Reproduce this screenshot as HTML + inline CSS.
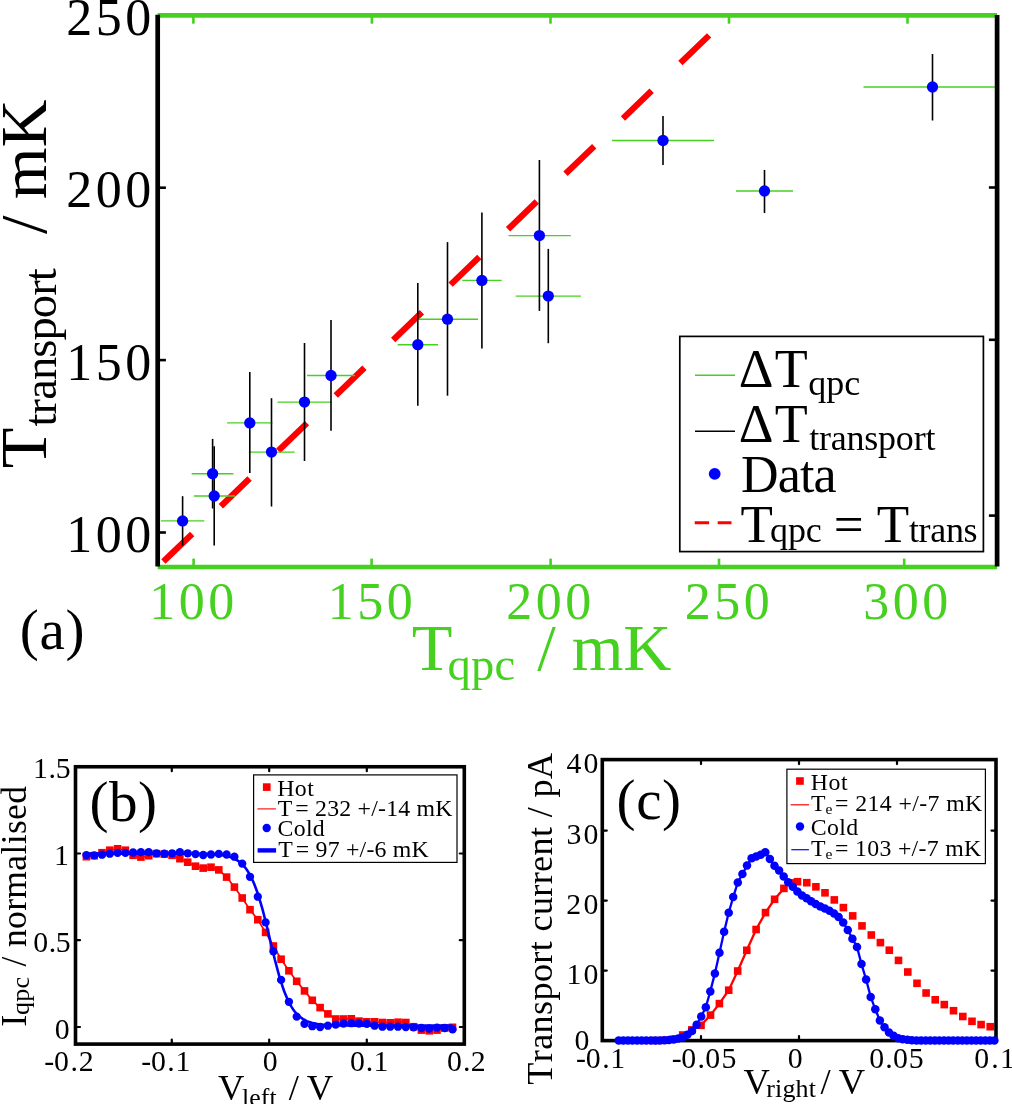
<!DOCTYPE html>
<html lang="en">
<head>
<meta charset="utf-8">
<title>Figure: T_transport vs T_qpc</title>
<style>
html,body{margin:0;padding:0;background:#fff;}
body{width:1012px;height:1104px;overflow:hidden;font-family:"Liberation Serif",serif;}
svg{display:block;will-change:transform;}
svg text{font-family:"Liberation Serif",serif;}
</style>
</head>
<body>
<svg width="1012" height="1104" viewBox="0 0 1012 1104">
<rect x="0" y="0" width="1012" height="1104" fill="#fff"/>
<g id="panel-a">
<line x1="163.4" y1="561.6" x2="710" y2="34.5" stroke="#ff0000" stroke-width="6.2" stroke-dasharray="39.9 39.9"/>
<line x1="160.9" y1="520.9" x2="204.3" y2="520.9" stroke="#46d020" stroke-width="1.4"/>
<line x1="191.7" y1="473.7" x2="233.4" y2="473.7" stroke="#46d020" stroke-width="1.4"/>
<line x1="193.9" y1="496.0" x2="235.0" y2="496.0" stroke="#46d020" stroke-width="1.4"/>
<line x1="227.1" y1="422.9" x2="272.5" y2="422.9" stroke="#46d020" stroke-width="1.4"/>
<line x1="248.8" y1="452.1" x2="294.7" y2="452.1" stroke="#46d020" stroke-width="1.4"/>
<line x1="277.5" y1="402.1" x2="331.8" y2="402.1" stroke="#46d020" stroke-width="1.4"/>
<line x1="307.0" y1="375.5" x2="355.0" y2="375.5" stroke="#46d020" stroke-width="1.4"/>
<line x1="397.7" y1="344.7" x2="438.0" y2="344.7" stroke="#46d020" stroke-width="1.4"/>
<line x1="417.8" y1="319.2" x2="478.0" y2="319.2" stroke="#46d020" stroke-width="1.4"/>
<line x1="462.3" y1="280.4" x2="501.7" y2="280.4" stroke="#46d020" stroke-width="1.4"/>
<line x1="508.5" y1="235.6" x2="570.8" y2="235.6" stroke="#46d020" stroke-width="1.4"/>
<line x1="515.7" y1="296.1" x2="580.9" y2="296.1" stroke="#46d020" stroke-width="1.4"/>
<line x1="612.0" y1="140.5" x2="714.0" y2="140.5" stroke="#46d020" stroke-width="1.4"/>
<line x1="736.0" y1="191.0" x2="793.0" y2="191.0" stroke="#46d020" stroke-width="1.4"/>
<line x1="863.5" y1="87.0" x2="997.0" y2="87.0" stroke="#46d020" stroke-width="1.4"/>
<line x1="182.6" y1="496.2" x2="182.6" y2="545.6" stroke="#000" stroke-width="1.6"/>
<line x1="212.6" y1="438.9" x2="212.6" y2="508.5" stroke="#000" stroke-width="1.6"/>
<line x1="214.2" y1="446.2" x2="214.2" y2="545.6" stroke="#000" stroke-width="1.6"/>
<line x1="249.8" y1="372.0" x2="249.8" y2="472.9" stroke="#000" stroke-width="1.6"/>
<line x1="271.5" y1="398.2" x2="271.5" y2="506.5" stroke="#000" stroke-width="1.6"/>
<line x1="304.5" y1="343.0" x2="304.5" y2="461.0" stroke="#000" stroke-width="1.6"/>
<line x1="331.0" y1="320.1" x2="331.0" y2="430.7" stroke="#000" stroke-width="1.6"/>
<line x1="417.8" y1="283.0" x2="417.8" y2="405.8" stroke="#000" stroke-width="1.6"/>
<line x1="447.5" y1="242.1" x2="447.5" y2="395.7" stroke="#000" stroke-width="1.6"/>
<line x1="481.9" y1="212.5" x2="481.9" y2="348.5" stroke="#000" stroke-width="1.6"/>
<line x1="539.4" y1="160.0" x2="539.4" y2="310.9" stroke="#000" stroke-width="1.6"/>
<line x1="548.3" y1="248.9" x2="548.3" y2="343.2" stroke="#000" stroke-width="1.6"/>
<line x1="663.0" y1="116.0" x2="663.0" y2="165.0" stroke="#000" stroke-width="1.6"/>
<line x1="764.5" y1="170.0" x2="764.5" y2="213.0" stroke="#000" stroke-width="1.6"/>
<line x1="932.5" y1="54.0" x2="932.5" y2="120.5" stroke="#000" stroke-width="1.6"/>
<circle cx="182.6" cy="520.9" r="5.65" fill="#0000ff"/>
<circle cx="212.6" cy="473.7" r="5.65" fill="#0000ff"/>
<circle cx="214.2" cy="496.0" r="5.65" fill="#0000ff"/>
<circle cx="249.8" cy="422.9" r="5.65" fill="#0000ff"/>
<circle cx="271.5" cy="452.1" r="5.65" fill="#0000ff"/>
<circle cx="304.5" cy="402.1" r="5.65" fill="#0000ff"/>
<circle cx="331.0" cy="375.5" r="5.65" fill="#0000ff"/>
<circle cx="417.8" cy="344.7" r="5.65" fill="#0000ff"/>
<circle cx="447.5" cy="319.2" r="5.65" fill="#0000ff"/>
<circle cx="481.9" cy="280.4" r="5.65" fill="#0000ff"/>
<circle cx="539.4" cy="235.6" r="5.65" fill="#0000ff"/>
<circle cx="548.3" cy="296.1" r="5.65" fill="#0000ff"/>
<circle cx="663.0" cy="140.5" r="5.65" fill="#0000ff"/>
<circle cx="764.5" cy="191.0" r="5.65" fill="#0000ff"/>
<circle cx="932.5" cy="87.0" r="5.65" fill="#0000ff"/>
<line x1="157.7" y1="15.3" x2="997.1" y2="15.3" stroke="#46d020" stroke-width="4.7"/>
<line x1="157.7" y1="567.0" x2="997.1" y2="567.0" stroke="#46d020" stroke-width="4.7"/>
<line x1="157.7" y1="14.8" x2="157.7" y2="566.5" stroke="#000" stroke-width="4.7"/>
<line x1="997.1" y1="15.0" x2="997.1" y2="566.5" stroke="#000" stroke-width="4.7"/>
<line x1="193.4" y1="15.3" x2="193.4" y2="23.700000000000003" stroke="#46d020" stroke-width="2.6"/>
<line x1="193.6" y1="567.0" x2="193.6" y2="558.6" stroke="#46d020" stroke-width="2.6"/>
<text xml:space="preserve" x="149.22 178.74 208.26" y="619.20" font-size="52" fill="#46d020">100</text>
<line x1="371.9" y1="15.3" x2="371.9" y2="23.700000000000003" stroke="#46d020" stroke-width="2.6"/>
<line x1="371.6" y1="567.0" x2="371.6" y2="558.6" stroke="#46d020" stroke-width="2.6"/>
<text xml:space="preserve" x="327.75 357.27 386.78" y="619.20" font-size="52" fill="#46d020">150</text>
<line x1="550.5" y1="15.3" x2="550.5" y2="23.700000000000003" stroke="#46d020" stroke-width="2.6"/>
<line x1="550.6" y1="567.0" x2="550.6" y2="558.6" stroke="#46d020" stroke-width="2.6"/>
<text xml:space="preserve" x="506.27 535.79 565.31" y="619.20" font-size="52" fill="#46d020">200</text>
<line x1="729.0" y1="15.3" x2="729.0" y2="23.700000000000003" stroke="#46d020" stroke-width="2.6"/>
<line x1="719.0" y1="567.0" x2="719.0" y2="558.6" stroke="#46d020" stroke-width="2.6"/>
<text xml:space="preserve" x="684.80 714.32 743.83" y="619.20" font-size="52" fill="#46d020">250</text>
<line x1="907.5" y1="15.3" x2="907.5" y2="23.700000000000003" stroke="#46d020" stroke-width="2.6"/>
<line x1="904.2" y1="567.0" x2="904.2" y2="558.6" stroke="#46d020" stroke-width="2.6"/>
<text xml:space="preserve" x="863.32 892.84 922.36" y="619.20" font-size="52" fill="#46d020">300</text>
<line x1="157.7" y1="532.5" x2="165.89999999999998" y2="532.5" stroke="#000" stroke-width="2.6"/>
<line x1="997.1" y1="515.6" x2="988.9" y2="515.6" stroke="#000" stroke-width="2.6"/>
<text xml:space="preserve" x="66.14 95.66 125.18" y="552.00" font-size="52" fill="#000">100</text>
<line x1="157.7" y1="360.1" x2="165.89999999999998" y2="360.1" stroke="#000" stroke-width="2.6"/>
<line x1="997.1" y1="339.8" x2="988.9" y2="339.8" stroke="#000" stroke-width="2.6"/>
<text xml:space="preserve" x="66.14 95.66 125.18" y="379.60" font-size="52" fill="#000">150</text>
<line x1="157.7" y1="187.7" x2="165.89999999999998" y2="187.7" stroke="#000" stroke-width="2.6"/>
<line x1="997.1" y1="187.5" x2="988.9" y2="187.5" stroke="#000" stroke-width="2.6"/>
<text xml:space="preserve" x="66.14 95.66 125.18" y="207.20" font-size="52" fill="#000">200</text>
<text xml:space="preserve" x="66.14 95.66 125.18" y="34.80" font-size="52" fill="#000">250</text>
<text xml:space="preserve" x="411.80" y="670.30" font-size="66.5" fill="#46d020">T</text>
<text xml:space="preserve" x="447.52 470.96 494.39" y="680.30" font-size="46.5" fill="#46d020">qpc</text>
<text xml:space="preserve" x="537.30 555.45 571.75 623.16" y="670.30" font-size="66.5" fill="#46d020">/ mK</text>
<text xml:space="preserve" transform="translate(46.00,0) rotate(-90)" x="-468.20" y="0" font-size="66.5" fill="#000">T</text>
<text xml:space="preserve" transform="translate(56.20,0) rotate(-90)" x="-426.45 -414.43 -399.84 -380.10 -357.74 -340.54 -318.19 -295.84 -281.25" y="0" font-size="46.5" fill="#000">transport</text>
<text xml:space="preserve" transform="translate(46.00,0) rotate(-90)" x="-234.00 -215.65 -199.15 -147.54" y="0" font-size="66.5" fill="#000">/ mK</text>
<text xml:space="preserve" x="19.69 39.41 65.47" y="649.20" font-size="57.2" fill="#000">(a)</text>
<rect x="679.8" y="336.4" width="303.6" height="215.2" fill="#fff" stroke="#000" stroke-width="1.7"/>
<line x1="695" y1="375.2" x2="735" y2="375.2" stroke="#46d020" stroke-width="1.4"/>
<text xml:space="preserve" x="738.64 774.81" y="386.70" font-size="54" fill="#000">ΔT</text>
<text xml:space="preserve" x="808.30 826.31 844.33" y="394.50" font-size="36" fill="#000">qpc</text>
<line x1="695" y1="431.2" x2="735" y2="431.2" stroke="#000" stroke-width="1.6"/>
<text xml:space="preserve" x="738.64 774.81" y="442.20" font-size="54" fill="#000">ΔT</text>
<text xml:space="preserve" x="809.25 819.02 830.79 846.54 864.31 878.10 895.87 913.65 925.41" y="450.00" font-size="36" fill="#000">transport</text>
<circle cx="714.7" cy="473.8" r="5.9" fill="#0000ff"/>
<text xml:space="preserve" x="740.90 777.64 799.90 813.53" y="492.40" font-size="52" fill="#000">Data</text>
<line x1="694.7" y1="522.7" x2="731.5" y2="522.7" stroke="#ff0000" stroke-width="3" stroke-dasharray="14.4 8.6"/>
<text xml:space="preserve" x="740.54" y="541.80" font-size="53" fill="#000">T</text>
<text xml:space="preserve" x="770.00 787.91 805.83" y="541.80" font-size="36" fill="#000">qpc</text>
<text xml:space="preserve" x="833.76" y="541.80" font-size="53" fill="#000">=</text>
<text xml:space="preserve" x="876.84" y="541.80" font-size="53" fill="#000">T</text>
<text xml:space="preserve" x="908.95 918.62 930.28 945.92 963.59" y="541.80" font-size="36" fill="#000">trans</text>
</g>
<g id="panel-b">
<polyline points="86.4,856.7 94.2,855.7 102.0,852.7 109.8,850.2 117.6,848.8 125.4,850.2 133.1,855.3 140.9,857.1 148.7,855.7 156.5,853.7 164.3,854.1 172.1,855.3 179.9,858.7 187.7,862.2 195.5,866.2 203.2,868.1 211.0,867.2 218.8,869.9 226.6,877.1 234.4,887.1 242.2,898.0 250.0,909.7 257.8,919.7 265.6,932.4 273.4,946.0 281.1,959.2 288.9,970.8 296.7,981.3 304.5,990.9 312.3,1000.3 320.1,1007.6 327.9,1013.9 335.7,1019.0 343.5,1019.0 351.3,1018.8 359.0,1021.1 366.8,1021.8 374.6,1021.8 382.4,1022.5 390.2,1022.8 398.0,1022.2 405.8,1022.5 413.6,1026.7 421.4,1030.1 429.2,1030.8 437.0,1030.1 444.7,1028.0 452.5,1027.3" fill="none" stroke="#ff0000" stroke-width="1.7"/>
<rect x="82.6" y="852.9" width="7.6" height="7.6" fill="#ff0000"/>
<rect x="90.4" y="851.9" width="7.6" height="7.6" fill="#ff0000"/>
<rect x="98.2" y="848.9" width="7.6" height="7.6" fill="#ff0000"/>
<rect x="106.0" y="846.4" width="7.6" height="7.6" fill="#ff0000"/>
<rect x="113.8" y="845.0" width="7.6" height="7.6" fill="#ff0000"/>
<rect x="121.6" y="846.4" width="7.6" height="7.6" fill="#ff0000"/>
<rect x="129.3" y="851.5" width="7.6" height="7.6" fill="#ff0000"/>
<rect x="137.1" y="853.3" width="7.6" height="7.6" fill="#ff0000"/>
<rect x="144.9" y="851.9" width="7.6" height="7.6" fill="#ff0000"/>
<rect x="152.7" y="849.9" width="7.6" height="7.6" fill="#ff0000"/>
<rect x="160.5" y="850.3" width="7.6" height="7.6" fill="#ff0000"/>
<rect x="168.3" y="851.5" width="7.6" height="7.6" fill="#ff0000"/>
<rect x="176.1" y="854.9" width="7.6" height="7.6" fill="#ff0000"/>
<rect x="183.9" y="858.4" width="7.6" height="7.6" fill="#ff0000"/>
<rect x="191.7" y="862.4" width="7.6" height="7.6" fill="#ff0000"/>
<rect x="199.4" y="864.3" width="7.6" height="7.6" fill="#ff0000"/>
<rect x="207.2" y="863.4" width="7.6" height="7.6" fill="#ff0000"/>
<rect x="215.0" y="866.1" width="7.6" height="7.6" fill="#ff0000"/>
<rect x="222.8" y="873.3" width="7.6" height="7.6" fill="#ff0000"/>
<rect x="230.6" y="883.3" width="7.6" height="7.6" fill="#ff0000"/>
<rect x="238.4" y="894.2" width="7.6" height="7.6" fill="#ff0000"/>
<rect x="246.2" y="905.9" width="7.6" height="7.6" fill="#ff0000"/>
<rect x="254.0" y="915.9" width="7.6" height="7.6" fill="#ff0000"/>
<rect x="261.8" y="928.6" width="7.6" height="7.6" fill="#ff0000"/>
<rect x="269.6" y="942.2" width="7.6" height="7.6" fill="#ff0000"/>
<rect x="277.3" y="955.4" width="7.6" height="7.6" fill="#ff0000"/>
<rect x="285.1" y="967.0" width="7.6" height="7.6" fill="#ff0000"/>
<rect x="292.9" y="977.5" width="7.6" height="7.6" fill="#ff0000"/>
<rect x="300.7" y="987.1" width="7.6" height="7.6" fill="#ff0000"/>
<rect x="308.5" y="996.5" width="7.6" height="7.6" fill="#ff0000"/>
<rect x="316.3" y="1003.8" width="7.6" height="7.6" fill="#ff0000"/>
<rect x="324.1" y="1010.1" width="7.6" height="7.6" fill="#ff0000"/>
<rect x="331.9" y="1015.2" width="7.6" height="7.6" fill="#ff0000"/>
<rect x="339.7" y="1015.2" width="7.6" height="7.6" fill="#ff0000"/>
<rect x="347.5" y="1015.0" width="7.6" height="7.6" fill="#ff0000"/>
<rect x="355.2" y="1017.3" width="7.6" height="7.6" fill="#ff0000"/>
<rect x="363.0" y="1018.0" width="7.6" height="7.6" fill="#ff0000"/>
<rect x="370.8" y="1018.0" width="7.6" height="7.6" fill="#ff0000"/>
<rect x="378.6" y="1018.7" width="7.6" height="7.6" fill="#ff0000"/>
<rect x="386.4" y="1019.0" width="7.6" height="7.6" fill="#ff0000"/>
<rect x="394.2" y="1018.4" width="7.6" height="7.6" fill="#ff0000"/>
<rect x="402.0" y="1018.7" width="7.6" height="7.6" fill="#ff0000"/>
<rect x="409.8" y="1022.9" width="7.6" height="7.6" fill="#ff0000"/>
<rect x="417.6" y="1026.3" width="7.6" height="7.6" fill="#ff0000"/>
<rect x="425.4" y="1027.0" width="7.6" height="7.6" fill="#ff0000"/>
<rect x="433.2" y="1026.3" width="7.6" height="7.6" fill="#ff0000"/>
<rect x="440.9" y="1024.2" width="7.6" height="7.6" fill="#ff0000"/>
<rect x="448.7" y="1023.5" width="7.6" height="7.6" fill="#ff0000"/>
<polyline points="86.4,853.6 87.9,853.6 89.5,853.6 91.0,853.6 92.5,853.6 94.1,853.6 95.6,853.6 97.1,853.6 98.7,853.6 100.2,853.6 101.7,853.6 103.3,853.6 104.8,853.6 106.3,853.6 107.8,853.6 109.4,853.6 110.9,853.6 112.4,853.6 114.0,853.6 115.5,853.6 117.0,853.6 118.6,853.6 120.1,853.6 121.6,853.6 123.2,853.6 124.7,853.6 126.2,853.6 127.8,853.6 129.3,853.6 130.8,853.6 132.4,853.6 133.9,853.6 135.4,853.6 137.0,853.6 138.5,853.6 140.0,853.6 141.5,853.6 143.1,853.6 144.6,853.6 146.1,853.6 147.7,853.6 149.2,853.6 150.7,853.6 152.3,853.6 153.8,853.6 155.3,853.6 156.9,853.6 158.4,853.6 159.9,853.6 161.5,853.6 163.0,853.6 164.5,853.6 166.1,853.6 167.6,853.6 169.1,853.6 170.7,853.6 172.2,853.6 173.7,853.6 175.3,853.6 176.8,853.6 178.3,853.6 179.8,853.6 181.4,853.6 182.9,853.6 184.4,853.6 186.0,853.6 187.5,853.7 189.0,853.7 190.6,853.7 192.1,853.7 193.6,853.7 195.2,853.7 196.7,853.7 198.2,853.8 199.8,853.8 201.3,853.8 202.8,853.8 204.4,853.9 205.9,853.9 207.4,854.0 209.0,854.0 210.5,854.1 212.0,854.2 213.5,854.3 215.1,854.4 216.6,854.5 218.1,854.7 219.7,854.9 221.2,855.1 222.7,855.3 224.3,855.6 225.8,855.9 227.3,856.2 228.9,856.7 230.4,857.1 231.9,857.7 233.5,858.3 235.0,859.1 236.5,859.9 238.1,860.9 239.6,862.0 241.1,863.3 242.7,864.8 244.2,866.4 245.7,868.3 247.3,870.5 248.8,872.9 250.3,875.6 251.8,878.6 253.4,882.0 254.9,885.7 256.4,889.8 258.0,894.2 259.5,899.1 261.0,904.2 262.6,909.7 264.1,915.5 265.6,921.6 267.2,927.8 268.7,934.1 270.2,940.6 271.8,947.0 273.3,953.3 274.8,959.5 276.4,965.5 277.9,971.2 279.4,976.6 281.0,981.6 282.5,986.3 284.0,990.7 285.6,994.7 287.1,998.3 288.6,1001.5 290.1,1004.5 291.7,1007.1 293.2,1009.4 294.7,1011.5 296.3,1013.3 297.8,1014.9 299.3,1016.3 300.9,1017.5 302.4,1018.6 303.9,1019.5 305.5,1020.4 307.0,1021.1 308.5,1021.7 310.1,1022.2 311.6,1022.7 313.1,1023.1 314.7,1023.4 316.2,1023.7 317.7,1024.0 319.3,1024.2 320.8,1024.4 322.3,1024.6 323.8,1024.7 325.4,1024.8 326.9,1024.9 328.4,1025.0 330.0,1025.1 331.5,1025.2 333.0,1025.2 334.6,1025.3 336.1,1025.3 337.6,1025.4 339.2,1025.4 340.7,1025.4 342.2,1025.5 343.8,1025.5 345.3,1025.5 346.8,1025.5 348.4,1025.5 349.9,1025.5 351.4,1025.5 353.0,1025.5 354.5,1025.6 356.0,1025.6 357.6,1025.6 359.1,1025.6 360.6,1025.6 362.1,1025.6 363.7,1025.6 365.2,1025.6 366.7,1025.6 368.3,1025.6 369.8,1025.6 371.3,1025.6 372.9,1025.6 374.4,1025.6 375.9,1025.6 377.5,1025.6 379.0,1025.6 380.5,1025.6 382.1,1025.6 383.6,1025.6 385.1,1025.6 386.7,1025.6 388.2,1025.6 389.7,1025.6 391.3,1025.6 392.8,1025.6 394.3,1025.6 395.8,1025.6 397.4,1025.6 398.9,1025.6 400.4,1025.6 402.0,1025.6 403.5,1025.6 405.0,1025.6 406.6,1025.6 408.1,1025.6 409.6,1025.6 411.2,1025.6 412.7,1025.6 414.2,1025.6 415.8,1025.6 417.3,1025.6 418.8,1025.6 420.4,1025.6 421.9,1025.6 423.4,1025.6 425.0,1025.6 426.5,1025.6 428.0,1025.6 429.6,1025.6 431.1,1025.6 432.6,1025.6 434.1,1025.6 435.7,1025.6 437.2,1025.6 438.7,1025.6 440.3,1025.6 441.8,1025.6 443.3,1025.6 444.9,1025.6 446.4,1025.6 447.9,1025.6 449.5,1025.6 451.0,1025.6 452.5,1025.6" fill="none" stroke="#0000ff" stroke-width="2.6"/>
<circle cx="86.4" cy="855.1" r="4.15" fill="#0000ff"/>
<circle cx="94.2" cy="855.3" r="4.15" fill="#0000ff"/>
<circle cx="102.0" cy="854.7" r="4.15" fill="#0000ff"/>
<circle cx="109.8" cy="853.7" r="4.15" fill="#0000ff"/>
<circle cx="117.6" cy="852.9" r="4.15" fill="#0000ff"/>
<circle cx="125.4" cy="852.9" r="4.15" fill="#0000ff"/>
<circle cx="133.1" cy="852.5" r="4.15" fill="#0000ff"/>
<circle cx="140.9" cy="852.1" r="4.15" fill="#0000ff"/>
<circle cx="148.7" cy="852.1" r="4.15" fill="#0000ff"/>
<circle cx="156.5" cy="853.3" r="4.15" fill="#0000ff"/>
<circle cx="164.3" cy="853.7" r="4.15" fill="#0000ff"/>
<circle cx="172.1" cy="853.3" r="4.15" fill="#0000ff"/>
<circle cx="179.9" cy="852.1" r="4.15" fill="#0000ff"/>
<circle cx="187.7" cy="853.3" r="4.15" fill="#0000ff"/>
<circle cx="195.5" cy="854.1" r="4.15" fill="#0000ff"/>
<circle cx="203.2" cy="855.0" r="4.15" fill="#0000ff"/>
<circle cx="211.0" cy="854.5" r="4.15" fill="#0000ff"/>
<circle cx="218.8" cy="853.9" r="4.15" fill="#0000ff"/>
<circle cx="226.6" cy="854.5" r="4.15" fill="#0000ff"/>
<circle cx="234.4" cy="856.7" r="4.15" fill="#0000ff"/>
<circle cx="242.2" cy="863.6" r="4.15" fill="#0000ff"/>
<circle cx="250.0" cy="876.8" r="4.15" fill="#0000ff"/>
<circle cx="257.8" cy="896.7" r="4.15" fill="#0000ff"/>
<circle cx="265.6" cy="922.4" r="4.15" fill="#0000ff"/>
<circle cx="273.4" cy="951.4" r="4.15" fill="#0000ff"/>
<circle cx="281.1" cy="979.9" r="4.15" fill="#0000ff"/>
<circle cx="288.9" cy="1001.8" r="4.15" fill="#0000ff"/>
<circle cx="296.7" cy="1016.6" r="4.15" fill="#0000ff"/>
<circle cx="304.5" cy="1023.9" r="4.15" fill="#0000ff"/>
<circle cx="312.3" cy="1026.2" r="4.15" fill="#0000ff"/>
<circle cx="320.1" cy="1027.0" r="4.15" fill="#0000ff"/>
<circle cx="327.9" cy="1025.7" r="4.15" fill="#0000ff"/>
<circle cx="335.7" cy="1024.6" r="4.15" fill="#0000ff"/>
<circle cx="343.5" cy="1023.5" r="4.15" fill="#0000ff"/>
<circle cx="351.3" cy="1023.2" r="4.15" fill="#0000ff"/>
<circle cx="359.0" cy="1023.5" r="4.15" fill="#0000ff"/>
<circle cx="366.8" cy="1023.9" r="4.15" fill="#0000ff"/>
<circle cx="374.6" cy="1025.7" r="4.15" fill="#0000ff"/>
<circle cx="382.4" cy="1026.7" r="4.15" fill="#0000ff"/>
<circle cx="390.2" cy="1026.7" r="4.15" fill="#0000ff"/>
<circle cx="398.0" cy="1026.7" r="4.15" fill="#0000ff"/>
<circle cx="405.8" cy="1027.1" r="4.15" fill="#0000ff"/>
<circle cx="413.6" cy="1027.3" r="4.15" fill="#0000ff"/>
<circle cx="421.4" cy="1028.0" r="4.15" fill="#0000ff"/>
<circle cx="429.2" cy="1028.5" r="4.15" fill="#0000ff"/>
<circle cx="437.0" cy="1027.6" r="4.15" fill="#0000ff"/>
<circle cx="444.7" cy="1028.0" r="4.15" fill="#0000ff"/>
<circle cx="452.5" cy="1029.4" r="4.15" fill="#0000ff"/>
<rect x="75.5" y="766.75" width="388.8" height="277.3499999999999" fill="none" stroke="#000" stroke-width="3.6"/>
<line x1="171.8" y1="766.75" x2="171.8" y2="771.25" stroke="#000" stroke-width="2.2" stroke-linecap="round"/>
<line x1="171.8" y1="1044.1" x2="171.8" y2="1039.6" stroke="#000" stroke-width="2.2" stroke-linecap="round"/>
<line x1="269.2" y1="766.75" x2="269.2" y2="771.25" stroke="#000" stroke-width="2.2" stroke-linecap="round"/>
<line x1="269.2" y1="1044.1" x2="269.2" y2="1039.6" stroke="#000" stroke-width="2.2" stroke-linecap="round"/>
<line x1="366.8" y1="766.75" x2="366.8" y2="771.25" stroke="#000" stroke-width="2.2" stroke-linecap="round"/>
<line x1="366.8" y1="1044.1" x2="366.8" y2="1039.6" stroke="#000" stroke-width="2.2" stroke-linecap="round"/>
<line x1="75.5" y1="1027.0" x2="80.0" y2="1027.0" stroke="#000" stroke-width="2.2" stroke-linecap="round"/>
<line x1="464.3" y1="1027.0" x2="459.8" y2="1027.0" stroke="#000" stroke-width="2.2" stroke-linecap="round"/>
<line x1="75.5" y1="940.2" x2="80.0" y2="940.2" stroke="#000" stroke-width="2.2" stroke-linecap="round"/>
<line x1="464.3" y1="940.2" x2="459.8" y2="940.2" stroke="#000" stroke-width="2.2" stroke-linecap="round"/>
<line x1="75.5" y1="853.5" x2="80.0" y2="853.5" stroke="#000" stroke-width="2.2" stroke-linecap="round"/>
<line x1="464.3" y1="853.5" x2="459.8" y2="853.5" stroke="#000" stroke-width="2.2" stroke-linecap="round"/>
<text xml:space="preserve" x="44.19 54.04 70.54 78.74" y="1071.10" font-size="29.8" fill="#000">-0.2</text>
<text xml:space="preserve" x="141.29 150.99 167.34 175.39" y="1071.10" font-size="29.8" fill="#000">-0.1</text>
<text xml:space="preserve" x="262.77" y="1071.10" font-size="29.8" fill="#000">0</text>
<text xml:space="preserve" x="350.07 365.87 373.39" y="1071.10" font-size="29.8" fill="#000">0.1</text>
<text xml:space="preserve" x="447.07 463.05 470.74" y="1071.10" font-size="29.8" fill="#000">0.2</text>
<text xml:space="preserve" x="32.88 48.42 55.66" y="778.30" font-size="29.8" fill="#000">1.5</text>
<text xml:space="preserve" x="54.09" y="865.00" font-size="29.8" fill="#000">1</text>
<text xml:space="preserve" x="33.27 48.71 55.86" y="951.80" font-size="29.8" fill="#000">0.5</text>
<text xml:space="preserve" x="54.83" y="1038.50" font-size="29.8" fill="#000">0</text>
<text xml:space="preserve" x="217.99" y="1100.20" font-size="36.5" fill="#000">V</text>
<text xml:space="preserve" x="242.08 249.31 260.83 269.48" y="1105.70" font-size="25.8" fill="#000">left</text>
<text xml:space="preserve" x="288.70 298.18 306.65" y="1100.20" font-size="36.5" fill="#000">/ V</text>
<text xml:space="preserve" transform="translate(25.50,0) rotate(-90)" x="-1026.72" y="0" font-size="36.5" fill="#000">I</text>
<text xml:space="preserve" transform="translate(29.10,0) rotate(-90)" x="-1015.04 -1001.79 -988.54" y="0" font-size="26" fill="#000">qpc</text>
<text xml:space="preserve" transform="translate(25.50,0) rotate(-90)" x="-966.50 -956.28 -947.04 -928.93 -910.82 -898.64 -870.67 -854.55 -844.33 -834.11 -819.93 -803.82" y="0" font-size="35.5" fill="#000">/ normalised</text>
<text xml:space="preserve" x="89.59 108.97 137.89" y="821.10" font-size="57.1" fill="#000">(b)</text>
<rect x="253.6" y="774.9" width="203.4" height="87.5" fill="#fff" stroke="#000" stroke-width="1.2"/>
<rect x="262.9" y="783.3" width="7.7" height="7.6" fill="#ff0000"/>
<text xml:space="preserve" x="277.21 294.86 307.23" y="795.80" font-size="23.8" fill="#000">Hot</text>
<line x1="257.4" y1="808.9" x2="275.9" y2="808.9" stroke="#ff0000" stroke-width="1.1"/>
<text xml:space="preserve" x="277.77" y="815.50" font-size="23.8" fill="#000">T</text>
<text xml:space="preserve" x="295.21 308.86 315.03 327.16 339.28 351.40 357.57 371.22 378.05 386.20 398.33 410.45 416.62 435.36" y="815.50" font-size="23.8" fill="#000">= 232 +/-14 mK</text>
<circle cx="266.7" cy="828" r="4.2" fill="#0000ff"/>
<text xml:space="preserve" x="277.52 293.69 305.88 312.79" y="836.10" font-size="23.8" fill="#000">Cold</text>
<line x1="257.6" y1="850.4" x2="276.1" y2="850.4" stroke="#0000ff" stroke-width="4.4"/>
<text xml:space="preserve" x="278.27" y="856.50" font-size="23.8" fill="#000">T</text>
<text xml:space="preserve" x="295.71 309.35 315.52 327.64 339.76 345.93 359.57 366.40 374.54 386.66 392.83 411.56" y="856.50" font-size="23.8" fill="#000">= 97 +/-6 mK</text>
</g>
<g id="panel-c">
<polyline points="655.2,1040.5 664.3,1040.3 673.5,1039.2 682.7,1035.0 691.8,1029.9 701.0,1025.3 710.5,1015.1 719.4,1003.6 728.7,990.2 737.7,971.0 746.8,950.3 756.1,929.5 765.5,912.6 774.6,899.3 783.9,888.4" fill="none" stroke="#ff0000" stroke-width="2.3"/>
<rect x="602.3" y="759.6" width="393.70000000000005" height="280.9999999999999" fill="none" stroke="#000" stroke-width="3.6"/>
<line x1="701.0" y1="759.6" x2="701.0" y2="764.1" stroke="#000" stroke-width="2.2" stroke-linecap="round"/>
<line x1="701.0" y1="1040.6" x2="701.0" y2="1036.1" stroke="#000" stroke-width="2.2" stroke-linecap="round"/>
<line x1="799.0" y1="759.6" x2="799.0" y2="764.1" stroke="#000" stroke-width="2.2" stroke-linecap="round"/>
<line x1="799.0" y1="1040.6" x2="799.0" y2="1036.1" stroke="#000" stroke-width="2.2" stroke-linecap="round"/>
<line x1="897.0" y1="759.6" x2="897.0" y2="764.1" stroke="#000" stroke-width="2.2" stroke-linecap="round"/>
<line x1="897.0" y1="1040.6" x2="897.0" y2="1036.1" stroke="#000" stroke-width="2.2" stroke-linecap="round"/>
<line x1="602.3" y1="970.6" x2="606.8" y2="970.6" stroke="#000" stroke-width="2.2" stroke-linecap="round"/>
<line x1="996.0" y1="970.6" x2="991.5" y2="970.6" stroke="#000" stroke-width="2.2" stroke-linecap="round"/>
<line x1="602.3" y1="900.6" x2="606.8" y2="900.6" stroke="#000" stroke-width="2.2" stroke-linecap="round"/>
<line x1="996.0" y1="900.6" x2="991.5" y2="900.6" stroke="#000" stroke-width="2.2" stroke-linecap="round"/>
<line x1="602.3" y1="830.6" x2="606.8" y2="830.6" stroke="#000" stroke-width="2.2" stroke-linecap="round"/>
<line x1="996.0" y1="830.6" x2="991.5" y2="830.6" stroke="#000" stroke-width="2.2" stroke-linecap="round"/>
<rect x="651.4" y="1036.7" width="7.6" height="7.6" fill="#ff0000"/>
<rect x="660.5" y="1036.5" width="7.6" height="7.6" fill="#ff0000"/>
<rect x="669.7" y="1035.4" width="7.6" height="7.6" fill="#ff0000"/>
<rect x="678.9" y="1031.2" width="7.6" height="7.6" fill="#ff0000"/>
<rect x="688.0" y="1026.1" width="7.6" height="7.6" fill="#ff0000"/>
<rect x="697.2" y="1021.5" width="7.6" height="7.6" fill="#ff0000"/>
<rect x="706.7" y="1011.3" width="7.6" height="7.6" fill="#ff0000"/>
<rect x="715.6" y="999.8" width="7.6" height="7.6" fill="#ff0000"/>
<rect x="724.9" y="986.4" width="7.6" height="7.6" fill="#ff0000"/>
<rect x="733.9" y="967.2" width="7.6" height="7.6" fill="#ff0000"/>
<rect x="743.0" y="946.5" width="7.6" height="7.6" fill="#ff0000"/>
<rect x="752.3" y="925.7" width="7.6" height="7.6" fill="#ff0000"/>
<rect x="761.7" y="908.8" width="7.6" height="7.6" fill="#ff0000"/>
<rect x="770.8" y="895.5" width="7.6" height="7.6" fill="#ff0000"/>
<rect x="780.1" y="884.6" width="7.6" height="7.6" fill="#ff0000"/>
<rect x="789.1" y="879.1" width="7.6" height="7.6" fill="#ff0000"/>
<rect x="793.7" y="877.9" width="7.6" height="7.6" fill="#ff0000"/>
<rect x="803.0" y="878.9" width="7.6" height="7.6" fill="#ff0000"/>
<rect x="812.1" y="883.0" width="7.6" height="7.6" fill="#ff0000"/>
<rect x="821.2" y="889.0" width="7.6" height="7.6" fill="#ff0000"/>
<rect x="830.5" y="896.1" width="7.6" height="7.6" fill="#ff0000"/>
<rect x="839.6" y="903.8" width="7.6" height="7.6" fill="#ff0000"/>
<rect x="848.9" y="912.1" width="7.6" height="7.6" fill="#ff0000"/>
<rect x="858.2" y="922.1" width="7.6" height="7.6" fill="#ff0000"/>
<rect x="867.5" y="931.2" width="7.6" height="7.6" fill="#ff0000"/>
<rect x="876.6" y="938.8" width="7.6" height="7.6" fill="#ff0000"/>
<rect x="885.5" y="946.4" width="7.6" height="7.6" fill="#ff0000"/>
<rect x="894.7" y="956.6" width="7.6" height="7.6" fill="#ff0000"/>
<rect x="904.0" y="968.2" width="7.6" height="7.6" fill="#ff0000"/>
<rect x="913.2" y="979.5" width="7.6" height="7.6" fill="#ff0000"/>
<rect x="922.3" y="989.2" width="7.6" height="7.6" fill="#ff0000"/>
<rect x="931.4" y="996.0" width="7.6" height="7.6" fill="#ff0000"/>
<rect x="940.5" y="1000.8" width="7.6" height="7.6" fill="#ff0000"/>
<rect x="949.7" y="1006.9" width="7.6" height="7.6" fill="#ff0000"/>
<rect x="959.0" y="1012.7" width="7.6" height="7.6" fill="#ff0000"/>
<rect x="968.2" y="1017.5" width="7.6" height="7.6" fill="#ff0000"/>
<rect x="977.3" y="1020.8" width="7.6" height="7.6" fill="#ff0000"/>
<rect x="986.4" y="1022.9" width="7.6" height="7.6" fill="#ff0000"/>
<polyline points="618.7,1040.6 623.3,1040.6 627.9,1040.6 632.4,1040.6 637.0,1040.6 641.6,1040.6 646.2,1040.6 650.8,1040.6 655.4,1040.5 659.9,1040.4 664.5,1040.2 669.1,1040.0 673.7,1039.6 678.3,1038.5 682.8,1037.3 687.4,1034.8 692.0,1030.9 696.6,1024.7 701.2,1016.5 705.8,1007.2 710.3,991.4 714.9,973.4 719.5,952.7 724.1,931.8 728.7,912.8 733.2,897.1 737.8,882.5 742.4,874.0 747.0,865.6 751.6,858.3 756.2,856.4 760.7,854.8 765.3,852.3 769.9,859.1 774.5,865.7 779.1,870.6 783.7,876.6 788.2,882.3 792.8,886.8 797.4,891.4 802.0,895.4 806.6,898.3 811.1,901.3 815.7,904.0 820.3,906.4 824.9,908.4 829.5,910.7 834.1,913.5 838.6,916.9 843.2,922.4 847.8,930.0 852.4,938.7 857.0,947.0 861.5,964.1 866.1,979.5 870.7,996.9 875.3,1009.3 879.9,1020.6 884.5,1027.3 889.0,1032.5 893.6,1035.8 898.2,1038.2 902.8,1039.2 907.4,1039.8 911.9,1040.3 916.5,1040.4 921.1,1040.5 925.7,1040.5 930.3,1040.5 934.9,1040.5 939.4,1040.5 944.0,1040.5 948.6,1040.5 953.2,1040.5 957.8,1040.5 962.4,1040.6 966.9,1040.6 971.5,1040.6 976.1,1040.6 980.7,1040.6 985.3,1040.6 989.8,1040.6 994.4,1040.6" fill="none" stroke="#0000ff" stroke-width="2.3"/>
<circle cx="618.7" cy="1040.6" r="4.25" fill="#0000ff"/>
<circle cx="623.3" cy="1040.6" r="4.25" fill="#0000ff"/>
<circle cx="627.9" cy="1040.6" r="4.25" fill="#0000ff"/>
<circle cx="632.4" cy="1040.6" r="4.25" fill="#0000ff"/>
<circle cx="637.0" cy="1040.6" r="4.25" fill="#0000ff"/>
<circle cx="641.6" cy="1040.6" r="4.25" fill="#0000ff"/>
<circle cx="646.2" cy="1040.6" r="4.25" fill="#0000ff"/>
<circle cx="650.8" cy="1040.6" r="4.25" fill="#0000ff"/>
<circle cx="655.4" cy="1040.5" r="4.25" fill="#0000ff"/>
<circle cx="659.9" cy="1040.4" r="4.25" fill="#0000ff"/>
<circle cx="664.5" cy="1040.2" r="4.25" fill="#0000ff"/>
<circle cx="669.1" cy="1040.0" r="4.25" fill="#0000ff"/>
<circle cx="673.7" cy="1039.6" r="4.25" fill="#0000ff"/>
<circle cx="678.3" cy="1038.5" r="4.25" fill="#0000ff"/>
<circle cx="682.8" cy="1037.3" r="4.25" fill="#0000ff"/>
<circle cx="687.4" cy="1034.8" r="4.25" fill="#0000ff"/>
<circle cx="692.0" cy="1030.9" r="4.25" fill="#0000ff"/>
<circle cx="696.6" cy="1024.7" r="4.25" fill="#0000ff"/>
<circle cx="701.2" cy="1016.5" r="4.25" fill="#0000ff"/>
<circle cx="705.8" cy="1007.2" r="4.25" fill="#0000ff"/>
<circle cx="710.3" cy="991.4" r="4.25" fill="#0000ff"/>
<circle cx="714.9" cy="973.4" r="4.25" fill="#0000ff"/>
<circle cx="719.5" cy="952.7" r="4.25" fill="#0000ff"/>
<circle cx="724.1" cy="931.8" r="4.25" fill="#0000ff"/>
<circle cx="728.7" cy="912.8" r="4.25" fill="#0000ff"/>
<circle cx="733.2" cy="897.1" r="4.25" fill="#0000ff"/>
<circle cx="737.8" cy="882.5" r="4.25" fill="#0000ff"/>
<circle cx="742.4" cy="874.0" r="4.25" fill="#0000ff"/>
<circle cx="747.0" cy="865.6" r="4.25" fill="#0000ff"/>
<circle cx="751.6" cy="858.3" r="4.25" fill="#0000ff"/>
<circle cx="756.2" cy="856.4" r="4.25" fill="#0000ff"/>
<circle cx="760.7" cy="854.8" r="4.25" fill="#0000ff"/>
<circle cx="765.3" cy="852.3" r="4.25" fill="#0000ff"/>
<circle cx="769.9" cy="859.1" r="4.25" fill="#0000ff"/>
<circle cx="774.5" cy="865.7" r="4.25" fill="#0000ff"/>
<circle cx="779.1" cy="870.6" r="4.25" fill="#0000ff"/>
<circle cx="783.7" cy="876.6" r="4.25" fill="#0000ff"/>
<circle cx="788.2" cy="882.3" r="4.25" fill="#0000ff"/>
<circle cx="792.8" cy="886.8" r="4.25" fill="#0000ff"/>
<circle cx="797.4" cy="891.4" r="4.25" fill="#0000ff"/>
<circle cx="802.0" cy="895.4" r="4.25" fill="#0000ff"/>
<circle cx="806.6" cy="898.3" r="4.25" fill="#0000ff"/>
<circle cx="811.1" cy="901.3" r="4.25" fill="#0000ff"/>
<circle cx="815.7" cy="904.0" r="4.25" fill="#0000ff"/>
<circle cx="820.3" cy="906.4" r="4.25" fill="#0000ff"/>
<circle cx="824.9" cy="908.4" r="4.25" fill="#0000ff"/>
<circle cx="829.5" cy="910.7" r="4.25" fill="#0000ff"/>
<circle cx="834.1" cy="913.5" r="4.25" fill="#0000ff"/>
<circle cx="838.6" cy="916.9" r="4.25" fill="#0000ff"/>
<circle cx="843.2" cy="922.4" r="4.25" fill="#0000ff"/>
<circle cx="847.8" cy="930.0" r="4.25" fill="#0000ff"/>
<circle cx="852.4" cy="938.7" r="4.25" fill="#0000ff"/>
<circle cx="857.0" cy="947.0" r="4.25" fill="#0000ff"/>
<circle cx="861.5" cy="964.1" r="4.25" fill="#0000ff"/>
<circle cx="866.1" cy="979.5" r="4.25" fill="#0000ff"/>
<circle cx="870.7" cy="996.9" r="4.25" fill="#0000ff"/>
<circle cx="875.3" cy="1009.3" r="4.25" fill="#0000ff"/>
<circle cx="879.9" cy="1020.6" r="4.25" fill="#0000ff"/>
<circle cx="884.5" cy="1027.3" r="4.25" fill="#0000ff"/>
<circle cx="889.0" cy="1032.5" r="4.25" fill="#0000ff"/>
<circle cx="893.6" cy="1035.8" r="4.25" fill="#0000ff"/>
<circle cx="898.2" cy="1038.2" r="4.25" fill="#0000ff"/>
<circle cx="902.8" cy="1039.2" r="4.25" fill="#0000ff"/>
<circle cx="907.4" cy="1039.8" r="4.25" fill="#0000ff"/>
<circle cx="911.9" cy="1040.3" r="4.25" fill="#0000ff"/>
<circle cx="916.5" cy="1040.4" r="4.25" fill="#0000ff"/>
<circle cx="921.1" cy="1040.5" r="4.25" fill="#0000ff"/>
<circle cx="925.7" cy="1040.5" r="4.25" fill="#0000ff"/>
<circle cx="930.3" cy="1040.5" r="4.25" fill="#0000ff"/>
<circle cx="934.9" cy="1040.5" r="4.25" fill="#0000ff"/>
<circle cx="939.4" cy="1040.5" r="4.25" fill="#0000ff"/>
<circle cx="944.0" cy="1040.5" r="4.25" fill="#0000ff"/>
<circle cx="948.6" cy="1040.5" r="4.25" fill="#0000ff"/>
<circle cx="953.2" cy="1040.5" r="4.25" fill="#0000ff"/>
<circle cx="957.8" cy="1040.5" r="4.25" fill="#0000ff"/>
<circle cx="962.4" cy="1040.6" r="4.25" fill="#0000ff"/>
<circle cx="966.9" cy="1040.6" r="4.25" fill="#0000ff"/>
<circle cx="971.5" cy="1040.6" r="4.25" fill="#0000ff"/>
<circle cx="976.1" cy="1040.6" r="4.25" fill="#0000ff"/>
<circle cx="980.7" cy="1040.6" r="4.25" fill="#0000ff"/>
<circle cx="985.3" cy="1040.6" r="4.25" fill="#0000ff"/>
<circle cx="989.8" cy="1040.6" r="4.25" fill="#0000ff"/>
<circle cx="994.4" cy="1040.6" r="4.25" fill="#0000ff"/>
<text xml:space="preserve" x="575.89 585.69 602.14 610.29" y="1067.60" font-size="29.8" fill="#000">-0.1</text>
<text xml:space="preserve" x="671.69 681.25 697.45 705.36 721.56" y="1067.60" font-size="29.8" fill="#000">-0.05</text>
<text xml:space="preserve" x="787.87" y="1067.60" font-size="29.8" fill="#000">0</text>
<text xml:space="preserve" x="869.27 885.23 892.90 908.86" y="1067.60" font-size="29.8" fill="#000">0.05</text>
<text xml:space="preserve" x="974.27 991.34 1000.12" y="1067.60" font-size="29.8" fill="#000">0.1</text>
<text xml:space="preserve" x="566.62 583.53" y="773.40" font-size="29.8" fill="#000">40</text>
<text xml:space="preserve" x="566.57 583.53" y="843.60" font-size="29.8" fill="#000">30</text>
<text xml:space="preserve" x="566.29 583.53" y="913.60" font-size="29.8" fill="#000">20</text>
<text xml:space="preserve" x="566.46 583.53" y="983.60" font-size="29.8" fill="#000">10</text>
<text xml:space="preserve" x="574.47" y="1050.20" font-size="29.8" fill="#000">0</text>
<text xml:space="preserve" x="743.49" y="1094.40" font-size="36.5" fill="#000">V</text>
<text xml:space="preserve" x="766.28 775.08 782.45 795.59 808.73" y="1097.00" font-size="26" fill="#000">right</text>
<text xml:space="preserve" x="820.60 830.23 838.85" y="1094.40" font-size="36.5" fill="#000">/ V</text>
<text xml:space="preserve" transform="translate(552.10,0) rotate(-90)" x="-1084.65 -1062.21 -1049.82 -1033.41 -1014.98 -1000.56 -982.12 -963.69 -951.30 -940.91 -931.52 -915.12 -896.68 -884.29 -871.90 -855.50 -837.07 -826.67 -817.29 -806.90 -797.51 -779.08" y="0" font-size="36.2" fill="#000">Transport current / pA</text>
<text xml:space="preserve" x="616.59 636.18 662.09" y="819.20" font-size="57.1" fill="#000">(c)</text>
<rect x="786.9" y="769.2" width="198.5" height="94.4" fill="#fff" stroke="#000" stroke-width="1.2"/>
<rect x="796.1" y="777.2" width="7.7" height="7.6" fill="#ff0000"/>
<text xml:space="preserve" x="810.71 828.46 840.93" y="789.90" font-size="23.8" fill="#000">Hot</text>
<line x1="790.7" y1="804.8" x2="809" y2="804.8" stroke="#ff0000" stroke-width="1.2"/>
<text xml:space="preserve" x="811.07" y="811.30" font-size="23.8" fill="#000">T</text>
<text xml:space="preserve" x="825.39" y="814.20" font-size="15.5" fill="#000">e</text>
<text xml:space="preserve" x="835.01 848.83 855.17 867.46 879.75 892.04 898.39 912.20 919.20 927.52 939.81 946.15 965.06" y="811.30" font-size="23.8" fill="#000">= 214 +/-7 mK</text>
<circle cx="800" cy="826.5" r="4.2" fill="#0000ff"/>
<text xml:space="preserve" x="810.82 827.06 839.32 846.29" y="834.60" font-size="23.8" fill="#000">Cold</text>
<line x1="791.3" y1="849.7" x2="808.9" y2="849.7" stroke="#0000ff" stroke-width="1.2"/>
<text xml:space="preserve" x="811.07" y="855.90" font-size="23.8" fill="#000">T</text>
<text xml:space="preserve" x="825.39" y="858.80" font-size="15.5" fill="#000">e</text>
<text xml:space="preserve" x="835.01 848.75 855.00 867.21 879.42 891.63 897.89 911.62 918.54 926.77 938.98 945.24 964.06" y="855.90" font-size="23.8" fill="#000">= 103 +/-7 mK</text>
</g>
</svg>
</body>
</html>
